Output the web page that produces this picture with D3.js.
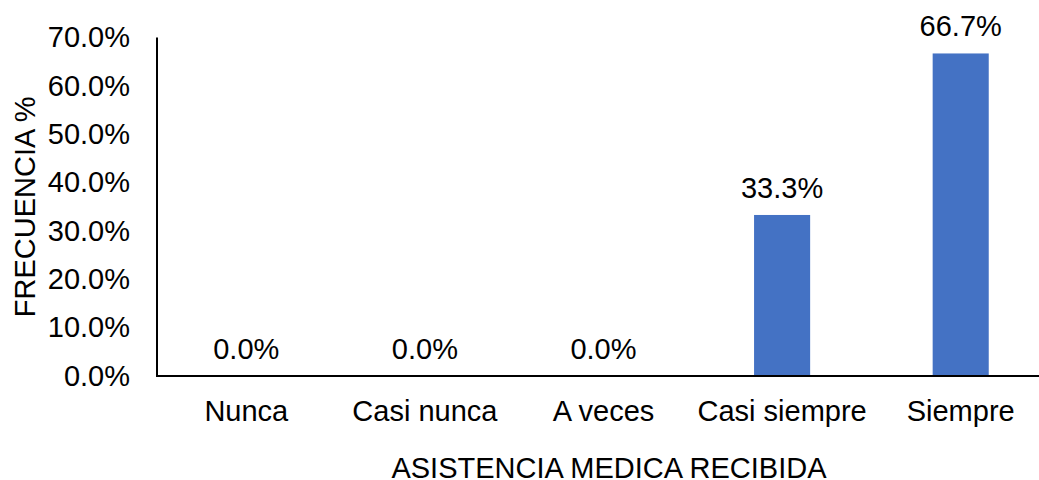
<!DOCTYPE html>
<html>
<head>
<meta charset="utf-8">
<script src="https://cdn.jsdelivr.net/npm/d3@7"></script>
<style>
  body { margin: 0; background: #fff; }
  text { font-family: Arial, "Liberation Sans", sans-serif; fill: #000; }
</style>
</head>
<body>
<script>
const categories = ['Nunca', 'Casi nunca', 'A veces', 'Casi siempre', 'Siempre'];
const values = [0.0, 0.0, 0.0, 33.3, 66.7];
const yTicks = [0, 10, 20, 30, 40, 50, 60, 70];
const xTitle = 'ASISTENCIA MEDICA RECIBIDA';
const yTitle = 'FRECUENCIA %';

const width = 1039;
const height = 480;
const fs = 29;

const svg = d3.select('body').append('svg').attr('width', width).attr('height', height);

const plotLeft = 157, plotRight = 1050, plotTop = 37.5, plotBottom = 376;

const x = d3.scaleBand().domain(categories).range([plotLeft, plotRight]).paddingInner(0.686).paddingOuter(0.343);
const y = d3.scaleLinear().domain([0, 70]).range([plotBottom, plotTop]);

const g = svg.append('g');

// bars
g.selectAll('.bar')
  .data(values)
  .enter()
  .append('rect')
  .attr('class', 'bar')
  .attr('x', (d, i) => x(categories[i]))
  .attr('width', x.bandwidth())
  .attr('y', d => y(d))
  .attr('height', d => y(0) - y(d))
  .attr('fill', '#4472C4');

// data labels
g.selectAll('.lbl')
  .data(values)
  .enter()
  .append('text')
  .attr('class', 'lbl')
  .attr('x', (d, i) => x(categories[i]) + x.bandwidth() / 2)
  .attr('y', d => y(d) - 17)
  .attr('text-anchor', 'middle')
  .style('font-size', fs + 'px')
  .text(d => d.toFixed(1) + '%');

// y axis
const yAxis = d3.axisLeft(y).tickValues(yTicks).tickSize(0).tickPadding(27)
  .tickFormat(d => d.toFixed(1) + '%');
const ya = svg.append('g').attr('transform', `translate(${plotLeft},0)`).call(yAxis);
ya.select('.domain').remove();
ya.selectAll('text').style('font-size', fs + 'px').attr('font-family', null).attr('fill', '#000');

// x axis
const xAxis = d3.axisBottom(x).tickSize(0).tickPadding(24);
const xa = svg.append('g').attr('transform', `translate(0,${plotBottom})`).call(xAxis);
xa.select('.domain').remove();
xa.selectAll('text').style('font-size', fs + 'px').attr('font-family', null).attr('fill', '#000');

// axis lines
svg.append('line').attr('x1', plotLeft).attr('x2', plotLeft).attr('y1', plotTop).attr('y2', plotBottom + 1)
  .attr('stroke', '#000').attr('stroke-width', 2);
svg.append('line').attr('x1', plotLeft - 1).attr('x2', plotRight).attr('y1', plotBottom).attr('y2', plotBottom)
  .attr('stroke', '#000').attr('stroke-width', 2);

// titles
svg.append('text')
  .attr('x', 609).attr('y', 478)
  .attr('text-anchor', 'middle')
  .style('font-size', fs + 'px')
  .text(xTitle);

svg.append('text')
  .attr('transform', `translate(35,${(plotTop + plotBottom) / 2}) rotate(-90)`)
  .attr('text-anchor', 'middle')
  .style('font-size', fs + 'px')
  .text(yTitle);
</script>
</body>
</html>
